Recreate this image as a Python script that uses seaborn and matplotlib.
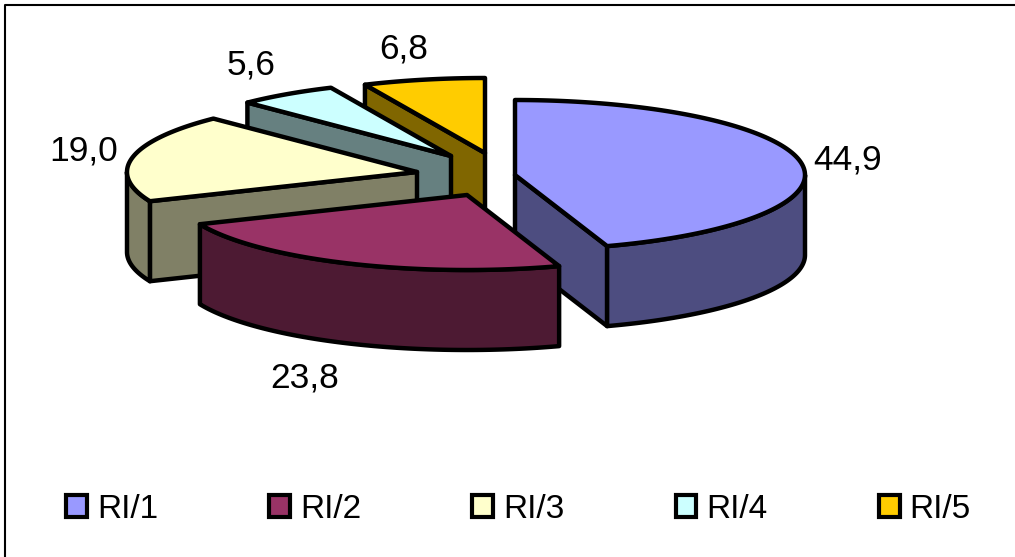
import numpy as np
import matplotlib
matplotlib.use("Agg")
import matplotlib.pyplot as plt
import seaborn as sns
from matplotlib.patches import Polygon, Patch

categories = ["RI/1", "RI/2", "RI/3", "RI/4", "RI/5"]
values = [44.9, 23.8, 19.0, 5.6, 6.8]
value_labels = ["44,9", "23,8", "19,0", "5,6", "6,8"]
colors = ["#9999FF", "#993366", "#FFFFCC", "#CCFFFF", "#FFCC00"]

sns.set_theme(style="white")
plt.rcParams["font.family"] = ["Liberation Sans", "DejaVu Sans"]

fig = plt.figure(figsize=(10.15, 5.57), dpi=100)
ax = fig.add_axes([0, 0, 1, 1])
ax.set_xlim(0, 1015)
ax.set_ylim(557, 0)
ax.axis("off")

# layout of the projected pie
RX, RY, DEPTH = 290, 75, 80
apex = {"RI/1": (515, 175), "RI/2": (467, 195), "RI/3": (417, 172),
        "RI/4": (451, 156), "RI/5": (485, 153)}
label_pos = {"RI/1": (848, 160), "RI/2": (305, 378), "RI/3": (84, 151),
             "RI/4": (251, 65), "RI/5": (404, 49)}
draw_order = ["RI/5", "RI/4", "RI/3", "RI/1", "RI/2"]
LW = 3.2

vals = np.array(values, dtype=float)
edges = np.concatenate([[0], np.cumsum(vals) / vals.sum() * 2 * np.pi])


def rim(cx, cy, t):
    return np.column_stack([cx + RX * np.sin(t), cy - RY * np.cos(t)])


def face(pts, color, z):
    ax.add_patch(Polygon(pts, closed=True, facecolor=color, edgecolor="black",
                         linewidth=LW, joinstyle="round", zorder=z))


for z, name in enumerate(draw_order):
    i = categories.index(name)
    t0, t1 = edges[i], edges[i + 1]
    cx, cy = apex[name]
    dark = tuple(0.5 * c for c in matplotlib.colors.to_rgb(colors[i]))
    down = np.array([0, DEPTH])
    base = z * 10

    for t, visible in ((t0, np.sin(t0) < -1e-6), (t1, np.sin(t1) > 1e-6)):
        if visible:
            p = rim(cx, cy, np.array([t]))[0]
            c = np.array([cx, cy])
            face([c, p, p + down, c + down], dark, base + 1)

    a, b = max(t0, np.pi / 2), min(t1, 3 * np.pi / 2)
    if b > a:
        arc = rim(cx, cy, np.linspace(a, b, 100))
        face(np.vstack([arc, (arc + down)[::-1]]), dark, base + 2)

    top = rim(cx, cy, np.linspace(t0, t1, 150))
    face(np.vstack([[cx, cy], top]), colors[i], base + 3)

    ax.text(*label_pos[name], value_labels[i], fontsize=25.5, color="black",
            ha="center", va="center", zorder=200)

# outer chart-area border (left and top only are in frame)
ax.plot([5, 5, 1015], [557, 5, 5], color="black", lw=1.5, zorder=300, clip_on=False)

# legend
handles = [Patch(facecolor=c, edgecolor="black", linewidth=3) for c in colors]
ax.legend(handles, categories, loc="center", bbox_to_anchor=(518.5 / 1015, 1 - 509 / 557),
          ncol=5, frameon=False, fontsize=24, handlelength=0.62, handleheight=0.62,
          handletextpad=0.3, columnspacing=3.34, borderpad=0, labelcolor="black")

fig.savefig("out.png", dpi=100, facecolor="white")
